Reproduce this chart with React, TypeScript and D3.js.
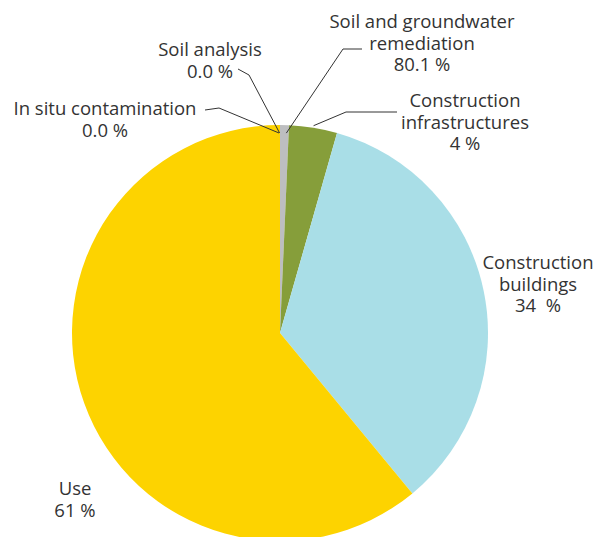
import React from "react";
import * as d3 from "d3";

const categories = [
  "Soil and groundwater remediation",
  "Construction infrastructures",
  "Construction buildings",
  "Use",
  "In situ contamination",
  "Soil analysis",
];
const values = [0.69, 3.73, 34.6, 60.98, 0, 0];
const labelLines = [
  ["Soil and groundwater", "remediation", "80.1 %"],
  ["Construction", "infrastructures", "4 %"],
  ["Construction", "buildings", "34  %"],
  ["Use", "61 %"],
  ["In situ contamination", "0.0 %"],
  ["Soil analysis", "0.0 %"],
];
const colors = ["#BDBEC0", "#869E3A", "#A9DEE7", "#FDD300", "#FDD300", "#BDBEC0"];

const W = 596;
const H = 537;
const cx = 280;
const cy = 333;
const R = 208;

// label anchor (center x, first baseline y) and leader bend points
const labelPos: [number, number][] = [
  [422, 28],
  [465, 107],
  [538, 269],
  [75, 495],
  [105, 115],
  [210, 56],
];
const leaders: ([number, number][] | null)[] = [
  [[362, 49], [343, 49]],
  [[397, 112], [346, 112]],
  null,
  null,
  [[205, 110], [219, 108]],
  [[238, 69], [249, 75]],
];

export default function App() {
  const pie = d3
    .pie<number>()
    .sort(null)
    .value((d) => d)
    .startAngle(0)
    .endAngle(2 * Math.PI);
  const arcs = pie(values);
  const arc = d3.arc<d3.PieArcDatum<number>>().innerRadius(0).outerRadius(R);
  const font = "'Open Sans', 'Noto Sans', sans-serif";

  return (
    <svg
      width={W}
      height={H}
      style={{ position: "absolute", left: 0, top: 0, display: "block" }}
    >
      <g transform={`translate(${cx},${cy})`}>
        {arcs.map((a, i) =>
          a.endAngle - a.startAngle > 0 ? (
            <path key={i} d={arc(a) || ""} fill={colors[i]} />
          ) : null
        )}
      </g>
      {arcs.map((a, i) => {
        const pts = leaders[i];
        if (!pts) return null;
        const mid = (a.startAngle + a.endAngle) / 2;
        const offsets = [0.01, 0, 0, 0, -0.005, -0.002];
        const ang = mid + offsets[i];
        const r = i === 1 ? R + 2 : R - 8;
        const end: [number, number] = [
          cx + r * Math.sin(ang),
          cy - r * Math.cos(ang),
        ];
        const line = d3.line()([...pts, end]);
        return (
          <path
            key={"l" + i}
            d={line || ""}
            fill="none"
            stroke="#333"
            strokeWidth={1}
          />
        );
      })}
      {labelLines.map((lines, i) => (
        <text
          key={"t" + i}
          x={labelPos[i][0]}
          y={labelPos[i][1]}
          textAnchor="middle"
          fontFamily={font}
          fontSize={18.5}
          fill="#333"
        >
          {lines.map((ln, j) => (
            <tspan
              key={j}
              x={labelPos[i][0]}
              dy={j === 0 ? 0 : 21.5}
              style={{ whiteSpace: "pre" }}
            >
              {ln}
            </tspan>
          ))}
        </text>
      ))}
    </svg>
  );
}
